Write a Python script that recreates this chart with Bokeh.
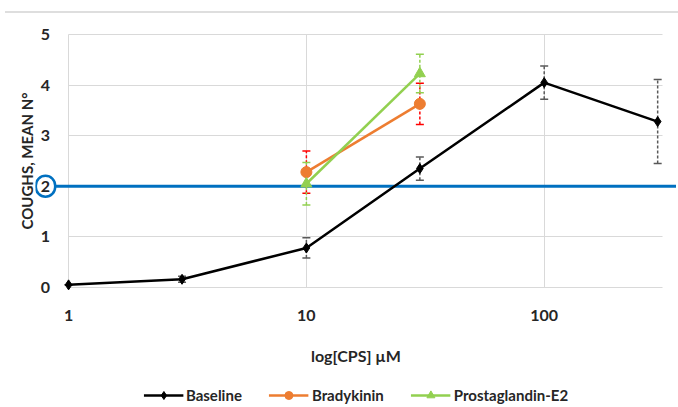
from bokeh.plotting import figure
from bokeh.layouts import column
from bokeh.models import (ColumnDataSource, Whisker, Span, Legend, LegendItem,
                          FixedTicker, TeeHead, Div)
from bokeh.core.properties import value
from bokeh.embed import file_html
from bokeh.resources import INLINE

# ---- data ----
CONC = [1, 3, 10, 30, 100, 300]
BASELINE = [0.05, 0.16, 0.78, 2.35, 4.05, 3.28]
BASELINE_ERR = [0.0, 0.06, 0.2, 0.23, 0.33, 0.83]

AGENT_CONC = [10, 30]
BRADYKININ = [2.28, 3.63]
BRADYKININ_ERR = [0.42, 0.41]
PGE2 = [2.05, 4.23]
PGE2_ERR = [0.42, 0.38]

THRESHOLD = 2
Y_TICKS = [0, 1, 2, 3, 4, 5]
X_TICKS = [1, 10, 100]
X_TICK_LABELS = ["1", "10", "100"]
X_AXIS_MIN, X_AXIS_MAX = 1, 315
X_START, X_END = 0.726, 360
Y_START, Y_END = -0.2, 5.2

FONT = "Lato"
TXT = "#262626"
BLUE = "#0070C0"
W = 676

top = Div(text="", width=W, height=8,
          styles={"border-bottom": "2px solid #dedede", "box-sizing": "border-box"})

p = figure(width=W, height=363, x_axis_type="log",
           x_range=(X_START, X_END), y_range=(Y_START, Y_END),
           output_backend="svg", toolbar_location=None,
           min_border_left=35, min_border_right=0, min_border_top=6,
           min_border_bottom=84)
p.outline_line_color = None

# grids
p.xgrid.ticker = FixedTicker(ticks=X_TICKS)
p.xgrid.cross_bounds = (0, 5)
p.ygrid.ticker = FixedTicker(ticks=Y_TICKS)
p.ygrid.cross_bounds = (X_AXIS_MIN, X_AXIS_MAX)
for g in (p.xgrid, p.ygrid):
    g.grid_line_color = "#D9D9D9"
    g.grid_line_width = 1
p.xgrid.minor_grid_line_color = None

# axes
p.xaxis.ticker = FixedTicker(ticks=X_TICKS)
p.xaxis.major_label_overrides = {t: l for t, l in zip(X_TICKS, X_TICK_LABELS)}
p.yaxis.ticker = FixedTicker(ticks=[])
for ax in (p.xaxis, p.yaxis):
    ax.axis_line_color = None
    ax.major_tick_line_color = None
    ax.minor_tick_line_color = None
    ax.major_label_text_font = FONT
    ax.major_label_text_font_style = "bold"
    ax.major_label_text_font_size = "16px"
    ax.major_label_text_color = TXT
    ax.axis_label_text_font = FONT
    ax.axis_label_text_font_style = "bold"
    ax.axis_label_text_color = TXT
p.xaxis.axis_label = "log[CPS] µM"
p.xaxis.axis_label_text_font_size = "16px"
p.xaxis.major_label_standoff = 6
p.xaxis.axis_label_standoff = 22
p.yaxis.axis_label = "COUGHS, MEAN N°"
p.yaxis.axis_label_text_font_size = "15px"
p.yaxis.axis_label_standoff = 0

# threshold line (under the marks)
p.add_layout(Span(location=THRESHOLD, dimension="width", line_color=BLUE,
                  line_width=3, level="underlay"))

# y tick labels, drawn next to the value axis
ylab = ColumnDataSource(dict(x=[X_START] * len(Y_TICKS), y=Y_TICKS,
                             t=[str(v) for v in Y_TICKS]))
p.text("x", "y", text="t", source=ylab, x_offset=10, text_align="center",
       text_baseline="middle", text_font=value(FONT), text_font_style="bold",
       text_font_size="16px", text_color=TXT)
# circled threshold label
p.text(x=[X_START], y=[THRESHOLD], text=[str(THRESHOLD)], x_offset=10,
       text_align="center", text_baseline="middle", text_font=value(FONT),
       text_font_style="bold", text_font_size="16px", text_color=TXT,
       background_fill_color="white", border_line_color=BLUE,
       border_line_width=2.5, padding=5, border_radius=12)

base_src = ColumnDataSource(dict(x=CONC, y=BASELINE,
                                 lo=[v - e for v, e in zip(BASELINE, BASELINE_ERR)],
                                 hi=[v + e for v, e in zip(BASELINE, BASELINE_ERR)]))
bk_src = ColumnDataSource(dict(x=AGENT_CONC, y=BRADYKININ,
                               lo=[v - e for v, e in zip(BRADYKININ, BRADYKININ_ERR)],
                               hi=[v + e for v, e in zip(BRADYKININ, BRADYKININ_ERR)]))
pg_src = ColumnDataSource(dict(x=AGENT_CONC, y=PGE2,
                               lo=[v - e for v, e in zip(PGE2, PGE2_ERR)],
                               hi=[v + e for v, e in zip(PGE2, PGE2_ERR)]))


def whisk(src, color):
    w = Whisker(base="x", upper="hi", lower="lo", source=src, dimension="height",
                line_color=color, line_width=1.5, line_dash="3 2",
                upper_head=TeeHead(size=8, line_color=color, line_width=1.5),
                lower_head=TeeHead(size=8, line_color=color, line_width=1.5))
    p.add_layout(w)


whisk(base_src, "#595959")
whisk(bk_src, "#FF0000")
whisk(pg_src, "#92D050")

SERIES = [("Baseline", base_src, "black", "diamond", 10),
          ("Bradykinin", bk_src, "#ED7D31", "circle", 11),
          ("Prostaglandin-E2", pg_src, "#92D050", "triangle", 11)]
for _, src, col, mk, sz in SERIES:
    p.line("x", "y", source=src, line_color=col, line_width=2.5)
    p.scatter("x", "y", source=src, marker=mk, size=sz, fill_color=col,
              line_color=col)

# legend strip below the chart (swatch renderers sit outside the visible range)
lf = figure(width=W, height=28, x_range=(0, 1), y_range=(0, 1),
            output_backend="svg", toolbar_location=None,
            x_axis_location=None, y_axis_location=None,
            min_border_left=0, min_border_right=0, min_border_top=0,
            min_border_bottom=0)
lf.outline_line_color = None
lf.grid.visible = False
items = []
for name, _, col, mk, sz in SERIES:
    hidden = ColumnDataSource(dict(x=[-5, -4], y=[-5, -5]))
    r1 = lf.line("x", "y", source=hidden, line_color=col, line_width=2.5)
    r2 = lf.scatter("x", "y", source=hidden, marker=mk, size=sz - 2,
                    fill_color=col, line_color=col)
    items.append(LegendItem(label=name, renderers=[r1, r2]))
legend = Legend(items=items, orientation="horizontal", location="center",
                label_text_font=FONT, label_text_font_style="bold",
                label_text_font_size="15px", label_text_color=TXT,
                glyph_width=40, spacing=27, label_standoff=3,
                border_line_color=None, background_fill_alpha=0,
                margin=0, padding=2)
lf.add_layout(legend)

layout = column(top, p, lf, spacing=0)
open("out.html", "w").write(file_html(layout, INLINE))
